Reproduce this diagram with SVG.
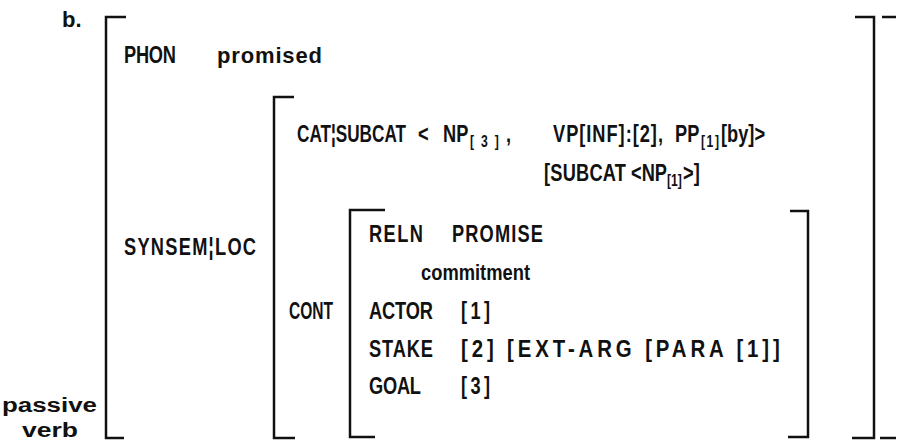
<svg xmlns="http://www.w3.org/2000/svg" width="897" height="442" viewBox="0 0 897 442">
<style>
.t{font-family:"Liberation Sans",Arial,sans-serif;font-weight:bold;font-size:24px;fill:#111}
.m{font-family:"Liberation Sans",Arial,sans-serif;font-weight:bold;font-size:22px;fill:#111}
.s{font-size:16px}
.p{font-family:"Liberation Sans",Arial,sans-serif;font-weight:bold;font-size:20px;fill:#111}
.b{fill:none;stroke:#111;stroke-width:2.5}
</style>
<rect width="897" height="442" fill="#fff"/>
<g id="connectors">
<path class="b" d="M126,17 H106 V438 H124"/>
<path class="b" d="M855,17 H874 V438 H852"/>
<path class="b" d="M882,17 H896 M880,438 H896"/>
<path class="b" d="M294,97 H274 V438 H295"/>
<path class="b" d="M385,210 H350 V437 H375"/>
<path class="b" d="M790,211 H808 V437 H788"/>
</g>
<g id="label-b"><text class="m" x="62" y="27">b.</text></g>
<g id="phon">
<text class="t" transform="translate(124,63) scale(0.76,1)" textLength="68.4" lengthAdjust="spacing">PHON</text>
<text class="m" x="217" y="63" textLength="105" lengthAdjust="spacing">promised</text>
</g>
<g id="synsem">
<text class="t" transform="translate(124,255) scale(0.76,1)" textLength="173.7" lengthAdjust="spacing">SYNSEM¦LOC</text>
</g>
<g id="cat">
<text class="t" transform="translate(297,142) scale(0.76,1)" textLength="143.4" lengthAdjust="spacingAndGlyphs">CAT¦SUBCAT</text>
<text class="t" transform="translate(418,142) scale(0.76,1)">&lt;</text>
<text class="t" transform="translate(443,142) scale(0.76,1)">NP</text>
<text class="t s" transform="translate(470,147) scale(0.76,1)" textLength="38" lengthAdjust="spacing">[3]</text>
<text class="t" transform="translate(506,142) scale(0.76,1)">,</text>
<text class="t" transform="translate(553,142) scale(0.76,1)" textLength="144.7" lengthAdjust="spacing">VP[INF]:[2],</text>
<text class="t" transform="translate(675,142) scale(0.76,1)">PP</text>
<text class="t s" transform="translate(701,147) scale(0.76,1)" textLength="23.7" lengthAdjust="spacing">[1]</text>
<text class="t" transform="translate(721,142) scale(0.76,1)">[by]&gt;</text>
<text class="t" transform="translate(544,181) scale(0.76,1)" textLength="107.9" lengthAdjust="spacing">[SUBCAT</text>
<text class="t" transform="translate(631,181) scale(0.76,1)">&lt;NP</text>
<text class="t s" transform="translate(667,186) scale(0.76,1)">[1]</text>
<text class="t" transform="translate(683,181) scale(0.76,1)">&gt;]</text>
</g>
<g id="cont">
<text class="t" transform="translate(289,319) scale(0.76,1)" textLength="57.9" lengthAdjust="spacingAndGlyphs">CONT</text>
<text class="t" transform="translate(369,242) scale(0.76,1)" textLength="71" lengthAdjust="spacing">RELN</text>
<text class="t" transform="translate(452,242) scale(0.76,1)" textLength="119.7" lengthAdjust="spacing">PROMISE</text>
<text class="m" x="421" y="280" font-size="19" textLength="109" lengthAdjust="spacingAndGlyphs">commitment</text>
<text class="t" transform="translate(369,319) scale(0.76,1)" textLength="84.2" lengthAdjust="spacing">ACTOR</text>
<text class="t" transform="translate(461,319) scale(0.76,1)" textLength="38.2" lengthAdjust="spacing">[1]</text>
<text class="t" transform="translate(369,357) scale(0.76,1)" textLength="84.2" lengthAdjust="spacing">STAKE</text>
<text class="t" transform="translate(461,357) scale(0.85,1)" textLength="375" lengthAdjust="spacing">[2] [EXT-ARG [PARA [1]]</text>
<text class="t" transform="translate(369,394) scale(0.76,1)" textLength="68.4" lengthAdjust="spacing">GOAL</text>
<text class="t" transform="translate(461,394) scale(0.76,1)" textLength="38.2" lengthAdjust="spacing">[3]</text>
</g>
<g id="passive-verb">
<text class="p" x="2" y="412" font-size="20" textLength="95" lengthAdjust="spacingAndGlyphs">passive</text>
<text class="p" x="22" y="437" font-size="20" textLength="56" lengthAdjust="spacingAndGlyphs">verb</text>
</g>
</svg>
